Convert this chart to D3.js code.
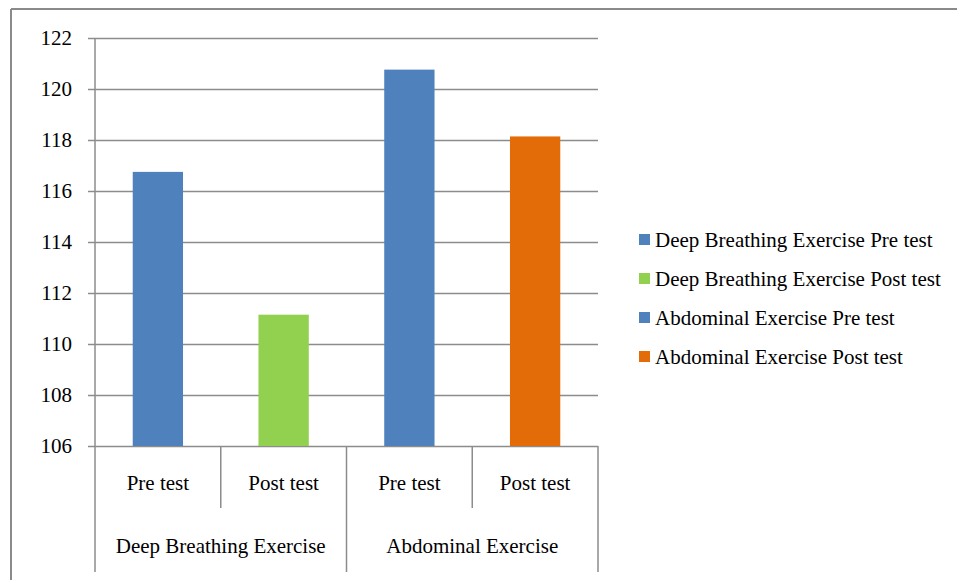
<!DOCTYPE html>
<html>
<head>
<meta charset="utf-8">
<script src="https://cdn.jsdelivr.net/npm/d3@7"></script>
<style>
  html, body { margin: 0; padding: 0; background: #fff; }
  svg { display: block; }
</style>
</head>
<body>
<svg id="chart" width="957" height="580"></svg>
<script>
// Mean values per group and test
const groups = ["Deep Breathing Exercise", "Abdominal Exercise"];
const tests = ["Pre test", "Post test"];
const seriesNames = [
  "Deep Breathing Exercise Pre test",
  "Deep Breathing Exercise Post test",
  "Abdominal Exercise Pre test",
  "Abdominal Exercise Post test"
];
const seriesValues = [116.75, 111.15, 120.76, 118.14];
const seriesColors = ["#4F81BD", "#92D050", "#4F81BD", "#E36C09"];
const yTicks = [106, 108, 110, 112, 114, 116, 118, 120, 122];

const FONT = "'Liberation Serif', 'Times New Roman', Tinos, serif";
const FONT_SIZE = "21px";
const svg = d3.select("#chart").style("font-family", FONT);
const W = 957, H = 580;

// Outer chart frame (top and left edges visible)
svg.append("line").attr("x1", 11).attr("x2", W).attr("y1", 9).attr("y2", 9)
  .attr("stroke", "#8a8a8a").attr("stroke-width", 2);
svg.append("line").attr("x1", 11).attr("x2", 11).attr("y1", 9).attr("y2", H)
  .attr("stroke", "#8a8a8a").attr("stroke-width", 2);

const plot = { left: 95, right: 598, top: 38, bottom: 446 };

// One band per bar: group x test
const slots = [];
groups.forEach(g => tests.forEach(t => slots.push(g + "|" + t)));

const x = d3.scaleBand().domain(slots).range([plot.left, plot.right]).paddingInner(0.6).paddingOuter(0.3);
const y = d3.scaleLinear().domain([106, 122]).range([plot.bottom, plot.top]);

const gridColor = "#8c8c8c";

// Horizontal gridlines with short tick stubs on the left
const yAxis = d3.axisLeft(y).tickValues(yTicks).tickSize(-(plot.right - plot.left)).tickSizeOuter(0).tickPadding(23);
const yg = svg.append("g").attr("transform", `translate(${plot.left},0)`).call(yAxis);
yg.attr("font-family", null).attr("font-size", null);
yg.select(".domain").remove();
yg.selectAll(".tick line").attr("stroke", gridColor).attr("stroke-width", 1.5);
yg.selectAll(".tick").append("line").attr("x1", -7).attr("x2", 0).attr("stroke", gridColor).attr("stroke-width", 1.5);
yg.selectAll(".tick text")
  .style("font-family", FONT).style("font-size", FONT_SIZE).attr("fill", "#000");

// Bars
const bars = slots.map((s, i) => ({ slot: s, value: seriesValues[i], color: seriesColors[i] }));
svg.append("g").selectAll("rect").data(bars).join("rect")
  .attr("x", d => x(d.slot))
  .attr("y", d => y(d.value))
  .attr("width", x.bandwidth())
  .attr("height", d => y(106) - y(d.value))
  .attr("fill", d => d.color);

// Vertical axis line extending through the category label area
const catBottom = 572, innerBottom = 508;
svg.append("line").attr("x1", plot.left).attr("x2", plot.left).attr("y1", plot.top).attr("y2", catBottom)
  .attr("stroke", gridColor).attr("stroke-width", 1.5);

// Category separators
const slotEdge = i => plot.left + (plot.right - plot.left) * i / slots.length;
for (let i = 1; i <= slots.length; i++) {
  const isGroupEdge = i % tests.length === 0;
  svg.append("line").attr("x1", slotEdge(i)).attr("x2", slotEdge(i))
    .attr("y1", plot.bottom).attr("y2", isGroupEdge ? catBottom : innerBottom)
    .attr("stroke", gridColor).attr("stroke-width", 1.5);
}

function label(sel) {
  return sel.style("font-family", FONT).style("font-size", FONT_SIZE).attr("fill", "#000");
}

// Test labels
slots.forEach((s, i) => {
  label(svg.append("text"))
    .attr("x", (slotEdge(i) + slotEdge(i + 1)) / 2)
    .attr("y", 490)
    .attr("text-anchor", "middle")
    .text(s.split("|")[1]);
});

// Group labels
groups.forEach((g, gi) => {
  const a = slotEdge(gi * tests.length), b = slotEdge((gi + 1) * tests.length);
  label(svg.append("text"))
    .attr("x", (a + b) / 2)
    .attr("y", 553)
    .attr("text-anchor", "middle")
    .text(g);
});

// Legend
const legend = svg.append("g").attr("transform", "translate(639,240)");
seriesNames.forEach((name, i) => {
  const row = legend.append("g").attr("transform", `translate(0,${i * 39})`);
  row.append("rect").attr("x", 0).attr("y", -6).attr("width", 11).attr("height", 11).attr("fill", seriesColors[i]);
  label(row.append("text")).attr("x", 16).attr("y", 7).text(name);
});
</script>
</body>
</html>
